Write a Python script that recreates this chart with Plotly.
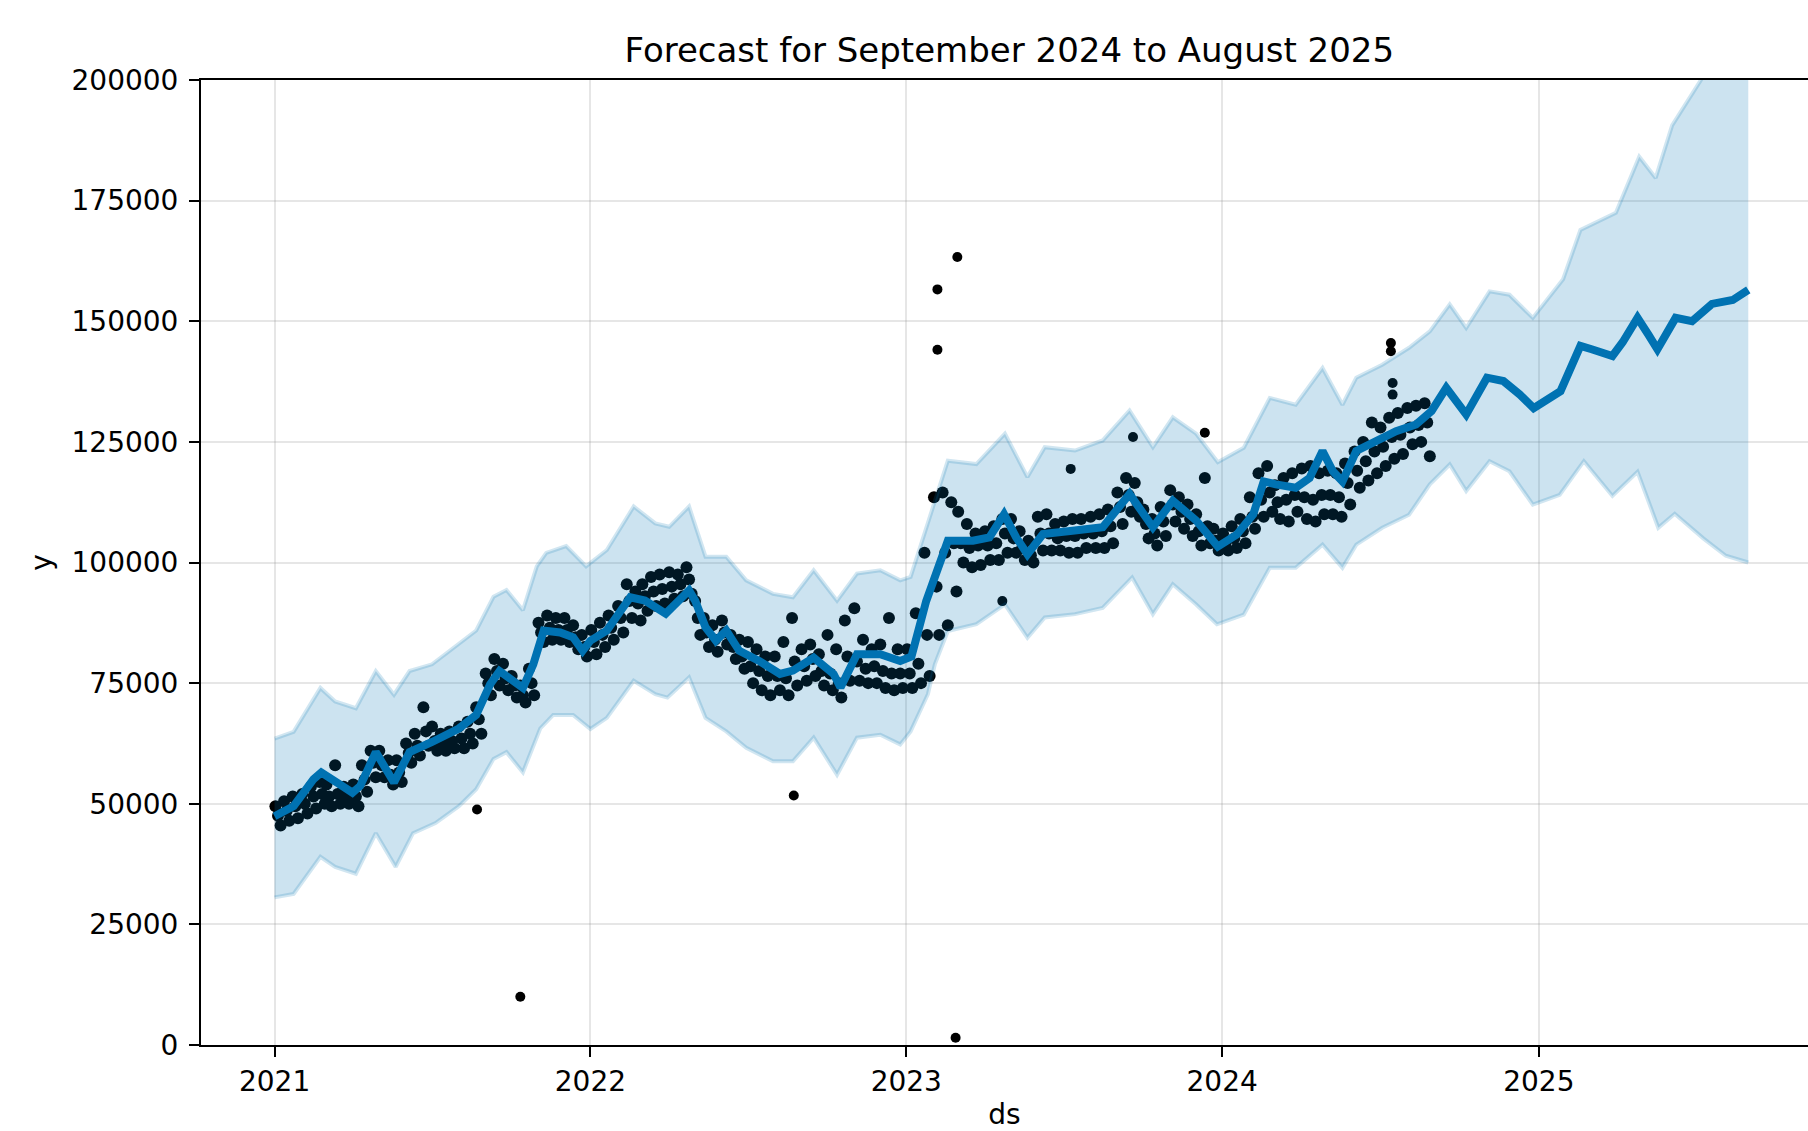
import pandas as pd
import plotly.graph_objects as go

# ---------------- forecast (yhat) ----------------
yhat_dates = ["2021-01-01", "2021-01-23", "2021-02-15", "2021-02-24", "2021-03-20", "2021-04-01",
              "2021-04-10", "2021-04-28", "2021-05-19", "2021-06-06", "2021-07-02", "2021-08-02",
              "2021-08-22", "2021-09-07", "2021-09-18", "2021-10-03", "2021-10-15", "2021-10-27",
              "2021-11-08", "2021-11-27", "2021-12-12", "2021-12-23", "2022-01-01", "2022-01-20",
              "2022-02-16", "2022-03-05", "2022-03-29", "2022-04-25", "2022-05-02", "2022-05-14",
              "2022-05-26", "2022-06-07", "2022-06-22", "2022-07-15", "2022-08-08", "2022-08-23",
              "2022-09-16", "2022-10-09", "2022-10-17", "2022-11-05", "2022-12-02", "2022-12-25",
              "2023-01-07", "2023-01-24", "2023-02-18", "2023-03-19", "2023-04-07", "2023-04-24",
              "2023-05-08", "2023-05-21", "2023-06-08", "2023-07-12", "2023-08-16", "2023-09-16",
              "2023-10-13", "2023-11-05", "2023-12-02", "2023-12-27", "2024-01-18", "2024-02-06",
              "2024-02-18", "2024-03-03", "2024-03-26", "2024-04-11", "2024-04-26", "2024-05-08",
              "2024-05-19", "2024-06-04", "2024-06-27", "2024-07-20", "2024-08-12", "2024-08-30",
              "2024-09-16", "2024-10-09", "2024-11-02", "2024-11-21", "2024-12-10", "2024-12-26",
              "2025-01-26", "2025-02-18", "2025-03-03", "2025-03-27", "2025-04-08", "2025-04-25",
              "2025-05-08", "2025-05-18", "2025-06-08", "2025-06-27", "2025-07-20", "2025-08-13",
              "2025-08-31"]
yhat_vals = [47400, 49500, 55100, 56500, 53700, 52300,
             53700, 60700, 54400, 60700, 62800, 65600,
             68400, 74700, 77500, 75400, 74000, 78900,
             85900, 85500, 84500, 81700, 83800, 85900,
             92800, 92100, 89400, 94200, 92100, 86600,
             83800, 85900, 81700, 79600, 76900, 77600,
             80300, 76900, 74100, 81000, 81000, 79600,
             80500, 92000, 104500, 104500, 105200, 110000,
             105200, 101700, 105900, 106600, 107300, 114200,
             107300, 112800, 108700, 103300, 105800, 110000,
             116800, 116200, 115500, 117500, 123100, 118900,
             116800, 123100, 125100, 127200, 128600, 131400,
             136200, 130700, 138300, 137600, 134800, 132000,
             135500, 144900, 144200, 142800, 145700, 150700,
             147100, 144200, 150700, 150000, 153600, 154400,
             156500]

# ---------------- uncertainty interval ----------------
upper_dates = ["2021-01-01", "2021-01-23", "2021-02-23", "2021-03-12", "2021-04-05", "2021-04-28",
               "2021-05-19", "2021-06-06", "2021-07-02", "2021-08-02", "2021-08-22", "2021-09-11",
               "2021-09-26", "2021-10-15", "2021-10-31", "2021-11-11", "2021-12-04", "2021-12-27",
               "2022-01-20", "2022-02-20", "2022-03-17", "2022-04-02", "2022-04-25", "2022-05-14",
               "2022-06-07", "2022-06-30", "2022-07-31", "2022-08-23", "2022-09-16", "2022-10-13",
               "2022-11-05", "2022-12-02", "2022-12-25", "2023-01-06", "2023-01-26", "2023-02-03",
               "2023-02-18", "2023-03-23", "2023-04-25", "2023-05-21", "2023-06-10", "2023-07-15",
               "2023-08-16", "2023-09-16", "2023-10-13", "2023-11-05", "2023-12-02", "2023-12-27",
               "2024-01-26", "2024-02-25", "2024-03-26", "2024-04-26", "2024-05-19", "2024-06-04",
               "2024-07-04", "2024-08-04", "2024-08-28", "2024-09-20", "2024-10-09", "2024-11-05",
               "2024-11-28", "2024-12-25", "2025-01-29", "2025-02-18", "2025-03-31", "2025-04-27",
               "2025-05-16", "2025-06-04", "2025-07-05", "2025-07-20", "2025-08-31"]
upper_vals = [63500, 64900, 74000, 71200, 69800, 77500,
              72600, 77500, 78900, 83100, 85900, 92900,
              94300, 90100, 99200, 102000, 103400, 99200,
              102600, 111600, 108100, 107400, 111600, 101200,
              101200, 96300, 93500, 92800, 98400, 92100,
              97700, 98400, 96300, 97000, 108000, 112800,
              121100, 120400, 126700, 117700, 123900, 123200,
              125300, 131500, 123900, 130100, 126700, 120800,
              123800, 134100, 132700, 140300, 132700, 138300,
              141000, 144500, 147900, 153500, 148600, 156200,
              155500, 150700, 158700, 168900, 172500, 184100,
              179700, 190600, 199300, 203600, 210000]

lower_dates = ["2021-01-01", "2021-01-23", "2021-02-23", "2021-03-12", "2021-04-05", "2021-04-28",
               "2021-05-21", "2021-06-10", "2021-07-06", "2021-08-02", "2021-08-22", "2021-09-11",
               "2021-09-26", "2021-10-15", "2021-11-04", "2021-11-19", "2021-12-12", "2022-01-01",
               "2022-01-20", "2022-02-20", "2022-03-17", "2022-03-31", "2022-04-25", "2022-05-14",
               "2022-06-07", "2022-06-30", "2022-07-31", "2022-08-23", "2022-09-16", "2022-10-13",
               "2022-11-05", "2022-12-02", "2022-12-25", "2023-01-06", "2023-01-26", "2023-02-03",
               "2023-02-18", "2023-03-23", "2023-04-25", "2023-05-21", "2023-06-10", "2023-07-15",
               "2023-08-16", "2023-09-19", "2023-10-13", "2023-11-05", "2023-12-02", "2023-12-26",
               "2024-01-26", "2024-02-25", "2024-03-26", "2024-04-26", "2024-05-19", "2024-06-04",
               "2024-07-04", "2024-08-04", "2024-08-28", "2024-09-20", "2024-10-09", "2024-11-05",
               "2024-11-28", "2024-12-25", "2025-01-25", "2025-02-22", "2025-03-27", "2025-04-25",
               "2025-05-19", "2025-06-07", "2025-07-10", "2025-08-05", "2025-08-31"]
lower_vals = [30600, 31300, 39000, 36900, 35500, 43900,
              36900, 43900, 46000, 49500, 53000, 59300,
              60700, 56500, 65600, 68400, 68400, 65500,
              67800, 75500, 72700, 72000, 76200, 67800,
              65000, 61600, 58800, 58800, 63700, 56000,
              63700, 64300, 62300, 65000, 72700, 78900,
              85800, 87200, 91300, 84400, 88600, 89300,
              90600, 96900, 89300, 95500, 91300, 87200,
              89200, 98900, 98900, 103700, 98900, 103700,
              107200, 109900, 116200, 120300, 114800, 121000,
              118900, 112000, 114000, 121000, 113800, 118800,
              107200, 110100, 105000, 101400, 100000]

# ---------------- observed values (top / middle / bottom of the point cloud) ----------------
# three readings per month, Jan 2021 - Aug 2024
obs_hi = [
    # 2021
    49500, 50500, 51500, 52000, 53500, 54500, 54000, 58000, 53500, 54000, 58000, 61000,
    61000, 59000, 59000, 62500, 64500, 70000, 66000, 64500, 65000, 66000, 67000, 70000,
    77000, 80000, 79000, 76500, 74500, 78000, 87500, 89000, 88500, 88500, 87000, 85000,
    # 2022
    86000, 87500, 89000, 91000, 95500, 94000, 95500, 97000, 97500, 98000, 97500, 99000,
    92000, 88500, 87000, 88000, 85000, 84000, 83500, 82000, 80500, 80500, 83500, 88500,
    82000, 83000, 81000, 85000, 82000, 88000, 90500, 84000, 82000, 83000, 88500, 82000,
    # 2023
    82000, 89500, 102000, 113500, 114500, 112500, 110500, 108000, 106000, 106500, 107500, 109000,
    109000, 106500, 104500, 109500, 110000, 108000, 108500, 109000, 109000, 109500, 110000, 111000,
    114500, 117500, 116500, 111000, 109000, 111500, 115000, 113500, 112000, 110000, 117500, 107000,
    # 2024
    106000, 107500, 109000, 113500, 118500, 120000, 116000, 117500, 118500, 119500, 120000, 118500,
    119000, 118500, 120500, 123000, 125000, 129000, 128000, 130000, 131000, 132000, 132500, 133000,
]
obs_mid = [
    # 2021
    47500, 48500, 49500, 50000, 51500, 52000, 51500, 52000, 51500, 51500, 55000, 58500,
    58000, 56000, 56500, 60500, 62000, 65000, 63000, 62500, 63000, 63500, 64500, 67500,
    75000, 77500, 76000, 74500, 72500, 75000, 85500, 86500, 86000, 86000, 84500, 82500,
    # 2022
    83500, 85000, 86500, 88500, 92000, 91500, 93000, 94000, 94500, 95000, 95500, 96500,
    88500, 85500, 84000, 85500, 82500, 80500, 78500, 77500, 76500, 76500, 76000, 79500,
    78500, 80000, 77500, 77000, 75000, 80500, 79500, 78000, 78500, 77500, 77000, 77000,
    # 2023
    77000, 79000, 85000, 95000, 102000, 104000, 104000, 103000, 103500, 103500, 104000, 106000,
    105000, 103000, 101500, 106000, 106000, 105000, 105500, 105500, 106000, 106000, 106500, 107500,
    111500, 114000, 112500, 108000, 106000, 108500, 112000, 110500, 109000, 106500, 107500, 104500,
    # 2024
    104000, 105000, 106500, 109500, 113000, 114500, 112500, 113000, 114000, 113500, 113000, 114000,
    114000, 113500, 116500, 119000, 121000, 123000, 124000, 126000, 126500, 128000, 128500, 129000,
]
obs_lo = [
    # 2021
    45500, 46500, 47000, 48000, 49000, 50000, 49500, 50000, 50000, 49500, 52500, 55500,
    55500, 54000, 54500, 58500, 60000, 62000, 61000, 61000, 61500, 61500, 62500, 64500,
    72500, 74500, 73500, 72000, 71000, 72500, 83500, 84000, 84000, 83500, 82000, 80500,
    # 2022
    81000, 82500, 84000, 85500, 88500, 88000, 90000, 91000, 91500, 92500, 93000, 93500,
    85000, 82500, 81500, 83000, 80000, 78000, 75000, 73500, 72500, 73500, 72500, 74500,
    75500, 76500, 74500, 73500, 72000, 75500, 75500, 75000, 75000, 74000, 73500, 74000,
    # 2023
    74000, 75000, 76500, 85000, 87000, 94000, 100000, 99000, 99500, 100500, 100500, 102000,
    102000, 100500, 100000, 102500, 102500, 102500, 102000, 102000, 103000, 103000, 103000, 104000,
    108000, 110500, 109500, 105000, 103500, 105500, 108500, 107000, 105500, 103500, 104000, 102500,
    # 2024
    102500, 103000, 104000, 107000, 109500, 110500, 109000, 108500, 110500, 109000, 108500, 110000,
    110000, 109500, 112000, 115500, 117000, 118500, 120000, 121500, 122500, 124500, 125000, 122000,
]
obs_months = pd.date_range("2021-01-01", "2024-08-01", freq="MS")
# day-of-month offsets of the three readings in each row (staggered between rows)
hi_days = [1, 11, 21]
mid_days = [4, 14, 24]
lo_days = [7, 17, 27]

# isolated observations (outliers)
out_dates = ["2021-08-23", "2021-10-12", "2022-08-24", "2023-02-06", "2023-02-06", "2023-02-27",
             "2023-03-01", "2023-04-22", "2023-07-10", "2023-09-20", "2023-12-12", "2024-07-14",
             "2024-07-14", "2024-07-16", "2024-07-16"]
out_vals = [48800, 10000, 51700, 156600, 144100, 1500,
            163300, 92000, 119400, 126000, 126900, 145500,
            143800, 137200, 134800]

# ---------------- axes ----------------
x_tick_vals = ["2021-01-01", "2022-01-01", "2023-01-01", "2024-01-01", "2025-01-01"]
x_tick_text = ["2021", "2022", "2023", "2024", "2025"]
y_tick_vals = [0, 25000, 50000, 75000, 100000, 125000, 150000, 175000, 200000]
y_tick_text = ["0", "25000", "50000", "75000", "100000", "125000", "150000", "175000", "200000"]


def dates_for(days):
    return [m + pd.Timedelta(days=d) for m in obs_months for d in days]


BLUE = "#0072B2"
FONT = "DejaVu Sans"

fig = go.Figure()
for vals, days in ((obs_hi, hi_days), (obs_mid, mid_days), (obs_lo, lo_days)):
    fig.add_trace(go.Scatter(x=dates_for(days), y=vals, mode="markers",
                             marker=dict(color="black", size=12), showlegend=False))
fig.add_trace(go.Scatter(x=out_dates, y=out_vals, mode="markers",
                         marker=dict(color="black", size=10), showlegend=False))
fig.add_trace(go.Scatter(x=yhat_dates, y=yhat_vals, mode="lines",
                         line=dict(color=BLUE, width=8), showlegend=False))

band_x = upper_dates + lower_dates[::-1]
band_y = upper_vals + lower_vals[::-1]
fig.add_trace(go.Scatter(x=band_x, y=band_y, mode="lines", fill="toself",
                         fillcolor="rgba(0,114,178,0.2)", line=dict(width=0),
                         showlegend=False, hoverinfo="skip"))
fig.add_trace(go.Scatter(x=upper_dates, y=upper_vals, mode="lines",
                         line=dict(color="rgba(0,114,178,0.18)", width=4), showlegend=False))
fig.add_trace(go.Scatter(x=lower_dates, y=lower_vals, mode="lines",
                         line=dict(color="rgba(0,114,178,0.18)", width=4), showlegend=False))

axis_common = dict(
    showgrid=True, gridcolor="rgba(128,128,128,0.2)", gridwidth=2,
    showline=True, linecolor="black", linewidth=2,
    ticks="outside", ticklen=10, tickwidth=2, tickcolor="black",
    tickfont=dict(family=FONT, size=28, color="black"),
    zeroline=False, automargin=False,
)

fig.update_layout(
    width=1808, height=1131, autosize=False,
    margin=dict(l=201, r=0, t=80, b=86, pad=0),
    paper_bgcolor="white", plot_bgcolor="white",
    font=dict(family=FONT, size=28, color="black"),
    showlegend=False,
    title=dict(text="Forecast for September 2024 to August 2025",
               font=dict(family=FONT, size=34, color="black"),
               x=0.503, xref="paper", xanchor="center",
               y=1 - 50 / 1131, yref="container", yanchor="middle"),
    xaxis=dict(type="date", range=["2020-10-08", "2025-11-08"],
               tickvals=x_tick_vals, ticktext=x_tick_text, mirror=True,
               title=dict(text="ds", font=dict(family=FONT, size=28), standoff=12),
               **axis_common),
    yaxis=dict(range=[0, 200000], tickvals=y_tick_vals, ticktext=y_tick_text, mirror=False,
               ticklabelstandoff=5,
               title=dict(text="y", font=dict(family=FONT, size=28), standoff=12),
               **axis_common),
)

fig.write_html("out.html", config={"displayModeBar": False},
               post_script="document.body.style.margin='0';document.body.style.overflow='hidden';")
